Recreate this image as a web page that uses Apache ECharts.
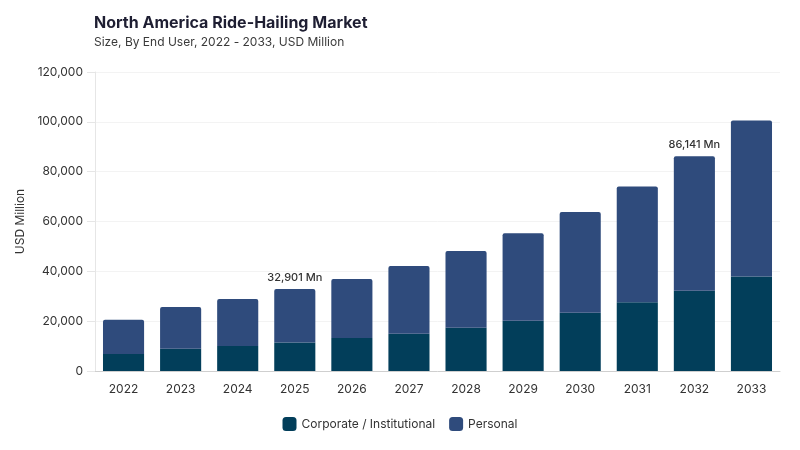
<!DOCTYPE html>
<html>
<head>
<meta charset="utf-8">
<script src="https://cdn.jsdelivr.net/npm/echarts@6/dist/echarts.min.js"></script>
<style>
  html, body { margin: 0; padding: 0; background: #fff; }
  #main { width: 800px; height: 450px; }
</style>
</head>
<body>
<div id="main"></div>
<script>
var years = ['2022', '2023', '2024', '2025', '2026', '2027', '2028', '2029', '2030', '2031', '2032', '2033'];
var corporate = [6800, 8900, 10000, 11400, 13200, 15000, 17400, 20200, 23400, 27600, 32200, 37900];
var personal = [13800, 16800, 18900, 21501, 23700, 27100, 30800, 35100, 40400, 46400, 53941, 62600];
// only these years carry a total label
var labelYears = ['2025', '2032'];

var font = 'Inter, "Noto Sans", sans-serif';

var myChart = echarts.init(document.getElementById('main'));

var totals = [];
for (var i = 0; i < years.length; i++) {
    totals.push(corporate[i] + personal[i]);
}

var option = {
    animation: false,
    textStyle: { fontFamily: font },
    title: {
        text: 'North America Ride-Hailing Market',
        subtext: 'Size, By End User, 2022 - 2033, USD Million',
        left: 89,
        top: 10,
        itemGap: 5,
        textStyle: { fontSize: 16, fontWeight: 'bold', color: '#1e1e32', fontFamily: font },
        subtextStyle: { fontSize: 12, color: '#3a3a3a', fontFamily: font }
    },
    legend: {
        bottom: 14,
        left: 'center',
        itemWidth: 14,
        itemHeight: 14,
        itemGap: 14,
        icon: 'roundRect',
        textStyle: { fontSize: 12, color: '#333', fontFamily: font },
        data: ['Corporate / Institutional', 'Personal']
    },
    grid: {
        left: 95,
        right: 20,
        top: 72,
        bottom: 79
    },
    xAxis: {
        type: 'category',
        data: years,
        axisLine: { lineStyle: { color: '#cfcfcf' } },
        axisTick: { show: false },
        axisLabel: { color: '#333', fontSize: 12, margin: 12 }
    },
    yAxis: {
        type: 'value',
        min: 0,
        max: 120000,
        interval: 20000,
        name: 'USD Million',
        nameLocation: 'middle',
        nameGap: 68,
        nameTextStyle: { color: '#333', fontSize: 12 },
        axisLine: { show: true, lineStyle: { color: '#e6e6e6' } },
        axisTick: { show: true, length: 8, lineStyle: { color: '#e6e6e6' } },
        axisLabel: {
            color: '#333',
            fontSize: 12,
            margin: 12,
            formatter: function (v) { return v.toLocaleString('en-US'); }
        },
        splitLine: { lineStyle: { color: '#f3f3f3' } }
    },
    series: [
        {
            name: 'Corporate / Institutional',
            type: 'bar',
            stack: 'total',
            barWidth: '72%',
            itemStyle: { color: '#023e5a' },
            data: corporate
        },
        {
            name: 'Personal',
            type: 'bar',
            stack: 'total',
            barWidth: '72%',
            itemStyle: { color: '#2f4b7c', borderRadius: [2, 2, 0, 0] },
            label: {
                show: true,
                position: 'top',
                distance: 6,
                color: '#333',
                fontSize: 11,
                fontWeight: 500,
                formatter: function (p) {
                    if (labelYears.indexOf(p.name) < 0) return '';
                    return totals[p.dataIndex].toLocaleString('en-US') + ' Mn';
                }
            },
            data: personal
        }
    ]
};

myChart.setOption(option);
</script>
</body>
</html>
